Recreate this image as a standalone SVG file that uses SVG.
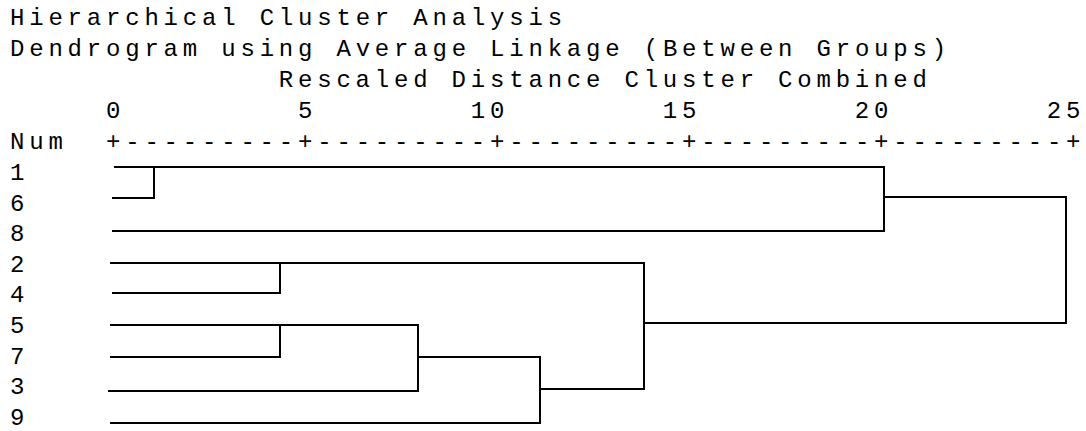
<svg xmlns="http://www.w3.org/2000/svg" width="1086" height="431" viewBox="0 0 1086 431">
<style>
text{font-family:"Courier New","Liberation Mono",monospace;font-size:24px;letter-spacing:4.8px;fill:#000}
.c line{stroke:#000;stroke-width:2;stroke-linecap:square}
</style>
<rect width="1086" height="431" fill="#fff"/>
<g id="header">
<text x="10" y="25">Hierarchical Cluster Analysis</text>
<text x="10" y="56">Dendrogram using Average Linkage (Between Groups)</text>
<text x="278.8" y="87">Rescaled Distance Cluster Combined</text>
<text x="106" y="118">0</text>
<text x="298" y="118">5</text>
<text x="470.8" y="118">10</text>
<text x="662.8" y="118">15</text>
<text x="854.8" y="118">20</text>
<text x="1046.8" y="118">25</text>
<text x="10" y="149">Num</text>
<text x="106" y="149">+---------+---------+---------+---------+---------+</text>
</g>
<g id="leaf-1"><text x="10" y="180">1</text></g>
<g id="leaf-6"><text x="10" y="210.6">6</text></g>
<g id="leaf-8"><text x="10" y="241.2">8</text></g>
<g id="leaf-2"><text x="10" y="271.8">2</text></g>
<g id="leaf-4"><text x="10" y="302.4">4</text></g>
<g id="leaf-5"><text x="10" y="333">5</text></g>
<g id="leaf-7"><text x="10" y="363.6">7</text></g>
<g id="leaf-3"><text x="10" y="394.2">3</text></g>
<g id="leaf-9"><text x="10" y="424.8">9</text></g>
<g id="connectors" class="c">
<line x1="115" y1="167" x2="884" y2="167"/>
<line x1="113" y1="198" x2="154" y2="198"/>
<line x1="154" y1="167" x2="154" y2="198"/>
<line x1="113" y1="231" x2="884" y2="231"/>
<line x1="884" y1="167" x2="884" y2="231"/>
<line x1="884" y1="197" x2="1066" y2="197"/>
<line x1="1066" y1="197" x2="1066" y2="323"/>
<line x1="111" y1="263" x2="644" y2="263"/>
<line x1="113" y1="293" x2="280" y2="293"/>
<line x1="280" y1="263" x2="280" y2="293"/>
<line x1="111" y1="325" x2="418" y2="325"/>
<line x1="111" y1="357" x2="280" y2="357"/>
<line x1="280" y1="325" x2="280" y2="357"/>
<line x1="109" y1="391" x2="418" y2="391"/>
<line x1="418" y1="325" x2="418" y2="391"/>
<line x1="418" y1="357" x2="540" y2="357"/>
<line x1="111" y1="423" x2="540" y2="423"/>
<line x1="540" y1="357" x2="540" y2="423"/>
<line x1="540" y1="389" x2="644" y2="389"/>
<line x1="644" y1="263" x2="644" y2="389"/>
<line x1="644" y1="323" x2="1066" y2="323"/>
</g>
</svg>
